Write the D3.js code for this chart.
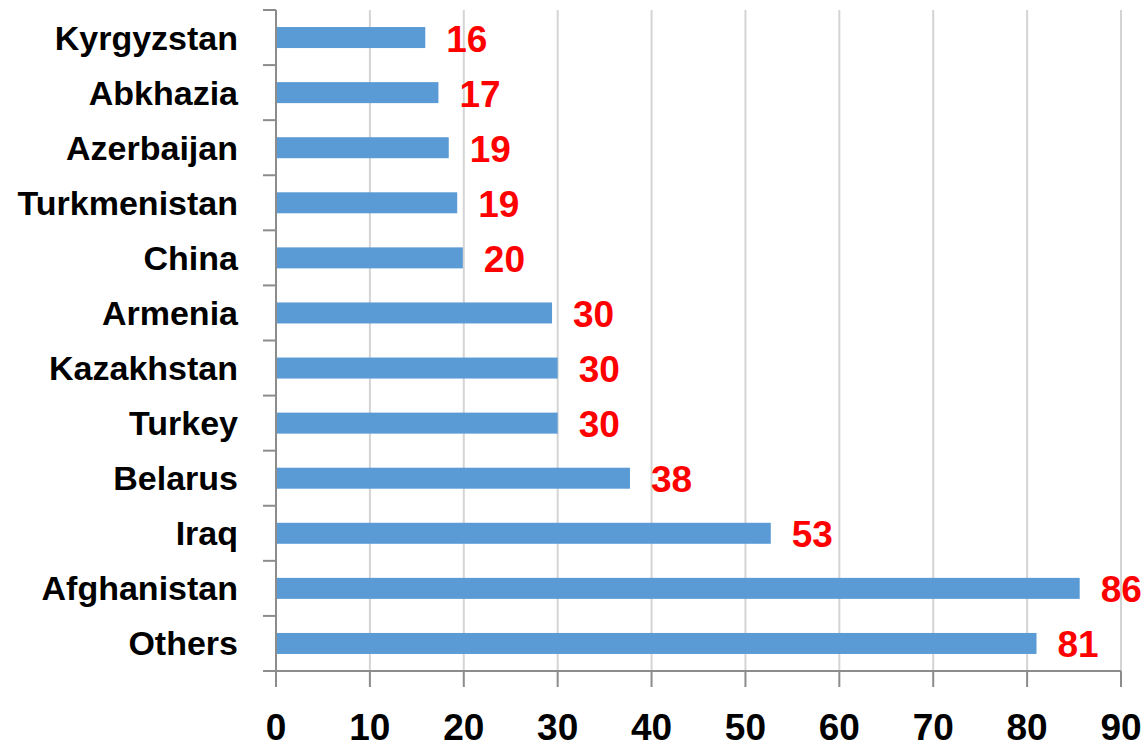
<!DOCTYPE html>
<html>
<head>
<meta charset="utf-8">
<script src="https://cdn.jsdelivr.net/npm/d3@7"></script>
<style>
    body { margin: 0; background: #fff; }
    svg text { font-family: "Liberation Sans", Arial, sans-serif; font-weight: bold; }
</style>
</head>
<body>
<svg id="chart" width="1148" height="749"></svg>
<script>
const countries = ["Kyrgyzstan", "Abkhazia", "Azerbaijan", "Turkmenistan", "China", "Armenia",
    "Kazakhstan", "Turkey", "Belarus", "Iraq", "Afghanistan", "Others"];
const values = [15.9, 17.3, 18.4, 19.3, 19.9, 29.4, 30.0, 30.0, 37.7, 52.7, 85.6, 81.0];
const valueLabels = ["16", "17", "19", "19", "20", "30", "30", "30", "38", "53", "86", "81"];
const xTicks = [0, 10, 20, 30, 40, 50, 60, 70, 80, 90];

const svg = d3.select("#chart");
const margin = { top: 10, right: 27, bottom: 78, left: 276 },
    w = 1148 - margin.left - margin.right,
    h = 749 - margin.top - margin.bottom;

const g = svg.append("g").attr("transform", `translate(${margin.left},${margin.top})`);

const x = d3.scaleLinear().domain([0, 90]).range([0, w]);
const yBand = d3.scaleBand().domain(countries).range([0, h]).padding(0);
const barH = 21;

// gridlines
g.selectAll(".grid").data(xTicks.slice(1)).enter().append("line")
    .attr("x1", d => x(d)).attr("x2", d => x(d))
    .attr("y1", 0).attr("y2", h)
    .attr("stroke", "#d4d4d4").attr("stroke-width", 2);

// bars
g.selectAll(".bar").data(values).enter().append("rect")
    .attr("x", 0)
    .attr("y", (d, i) => yBand(countries[i]) + yBand.bandwidth() / 2 - barH / 2)
    .attr("width", d => x(d))
    .attr("height", barH)
    .attr("fill", "#5b9bd5");

// value labels
g.selectAll(".vlabel").data(values).enter().append("text")
    .attr("x", d => x(d) + 21)
    .attr("y", (d, i) => yBand(countries[i]) + yBand.bandwidth() / 2 + 14)
    .attr("fill", "#ff0000")
    .attr("font-size", 37)
    .text((d, i) => valueLabels[i]);

// y axis
const yAxis = g.append("g").attr("class", "yaxis");
yAxis.append("line").attr("x1", 0).attr("x2", 0).attr("y1", 0).attr("y2", h)
    .attr("stroke", "#8c8c8c").attr("stroke-width", 2);
const bounds = countries.map(c => yBand(c)).concat([h]);
yAxis.selectAll(".tk").data(bounds).enter().append("line")
    .attr("x1", -13).attr("x2", 0).attr("y1", d => d).attr("y2", d => d)
    .attr("stroke", "#8c8c8c").attr("stroke-width", 2);
yAxis.selectAll(".lbl").data(countries).enter().append("text")
    .attr("x", -38)
    .attr("y", d => yBand(d) + yBand.bandwidth() / 2 + 12)
    .attr("text-anchor", "end")
    .attr("font-size", 34)
    .attr("fill", "#000")
    .text(d => d);

// x axis
const xAxis = g.append("g").attr("transform", `translate(0,${h})`);
xAxis.append("line").attr("x1", 0).attr("x2", w).attr("y1", 0).attr("y2", 0)
    .attr("stroke", "#8c8c8c").attr("stroke-width", 2);
xAxis.selectAll(".tk").data(xTicks).enter().append("line")
    .attr("x1", d => x(d)).attr("x2", d => x(d)).attr("y1", 0).attr("y2", 16)
    .attr("stroke", "#8c8c8c").attr("stroke-width", 2);
xAxis.selectAll(".lbl").data(xTicks).enter().append("text")
    .attr("x", d => x(d))
    .attr("y", 69)
    .attr("text-anchor", "middle")
    .attr("font-size", 37)
    .attr("fill", "#000")
    .text(d => d);
</script>
</body>
</html>
